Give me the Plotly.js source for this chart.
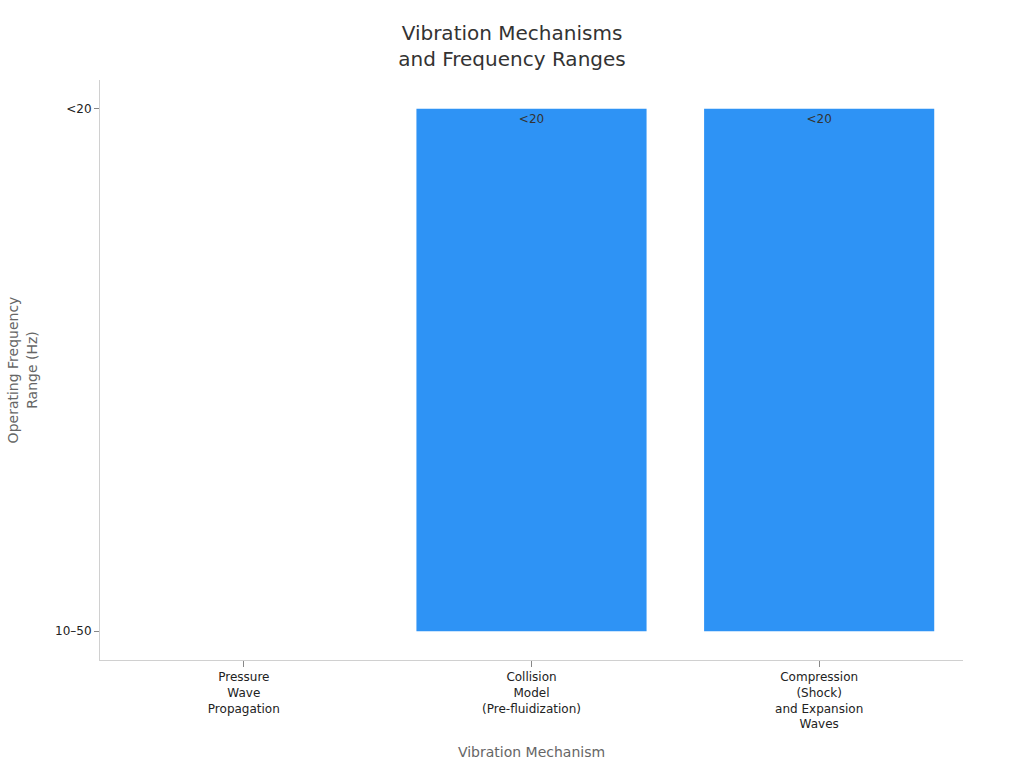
<!DOCTYPE html>
<html>
<head>
<meta charset="utf-8">
<script src="https://cdn.plot.ly/plotly-3.0.1.min.js"></script>
<style>
    html, body { margin: 0; padding: 0; background: #fff; }
    #chart { width: 1024px; height: 768px; }
</style>
</head>
<body>
<div id="chart"></div>
<script>
    // Chart data
    var mechanisms = [
        'Pressure<br>Wave<br>Propagation',
        'Collision<br>Model<br>(Pre-fluidization)',
        'Compression<br>(Shock)<br>and Expansion<br>Waves'
    ];
    var frequencyRanges = ['10–50', '<20', '<20'];
    var rangeOrder = ['10–50', '<20'];

    var font = { family: '"DejaVu Sans", sans-serif', color: '#333333', size: 12 };

    var trace = {
        type: 'bar',
        x: mechanisms,
        y: frequencyRanges,
        text: frequencyRanges,
        textposition: 'inside',
        insidetextanchor: 'end',
        textfont: { family: font.family, size: 12, color: '#333333' },
        marker: { color: '#2E93F5', line: { width: 0 } },
        hoverinfo: 'x+y'
    };

    var layout = {
        width: 1024,
        height: 768,
        margin: { t: 80, r: 61, b: 108, l: 100 },
        paper_bgcolor: '#ffffff',
        plot_bgcolor: '#ffffff',
        font: font,
        title: {
            text: 'Vibration Mechanisms<br>and Frequency Ranges',
            x: 0.5,
            y: 0.948,
            font: { family: font.family, size: 20, color: '#333333' }
        },
        bargap: 0.2,
        showlegend: false,
        xaxis: {
            type: 'category',
            title: { text: 'Vibration Mechanism', font: { size: 14, color: '#666666' }, standoff: 16 },
            showline: true,
            linecolor: '#d0d0d0',
            ticks: 'outside',
            ticklen: 6,
            tickcolor: '#888888',
            tickfont: { size: 12, color: '#222222' },
            showgrid: false,
            zeroline: false
        },
        yaxis: {
            type: 'category',
            categoryorder: 'array',
            categoryarray: rangeOrder,
            range: [-0.055, 1.055],
            automargin: true,
            title: { text: 'Operating Frequency<br>Range (Hz)', font: { size: 14, color: '#666666' }, standoff: 14 },
            showline: true,
            linecolor: '#d0d0d0',
            ticks: 'outside',
            ticklen: 5,
            tickcolor: '#888888',
            tickfont: { size: 12, color: '#222222' },
            showgrid: false,
            zeroline: false
        }
    };

    Plotly.newPlot('chart', [trace], layout, { displayModeBar: false });
</script>
</body>
</html>
